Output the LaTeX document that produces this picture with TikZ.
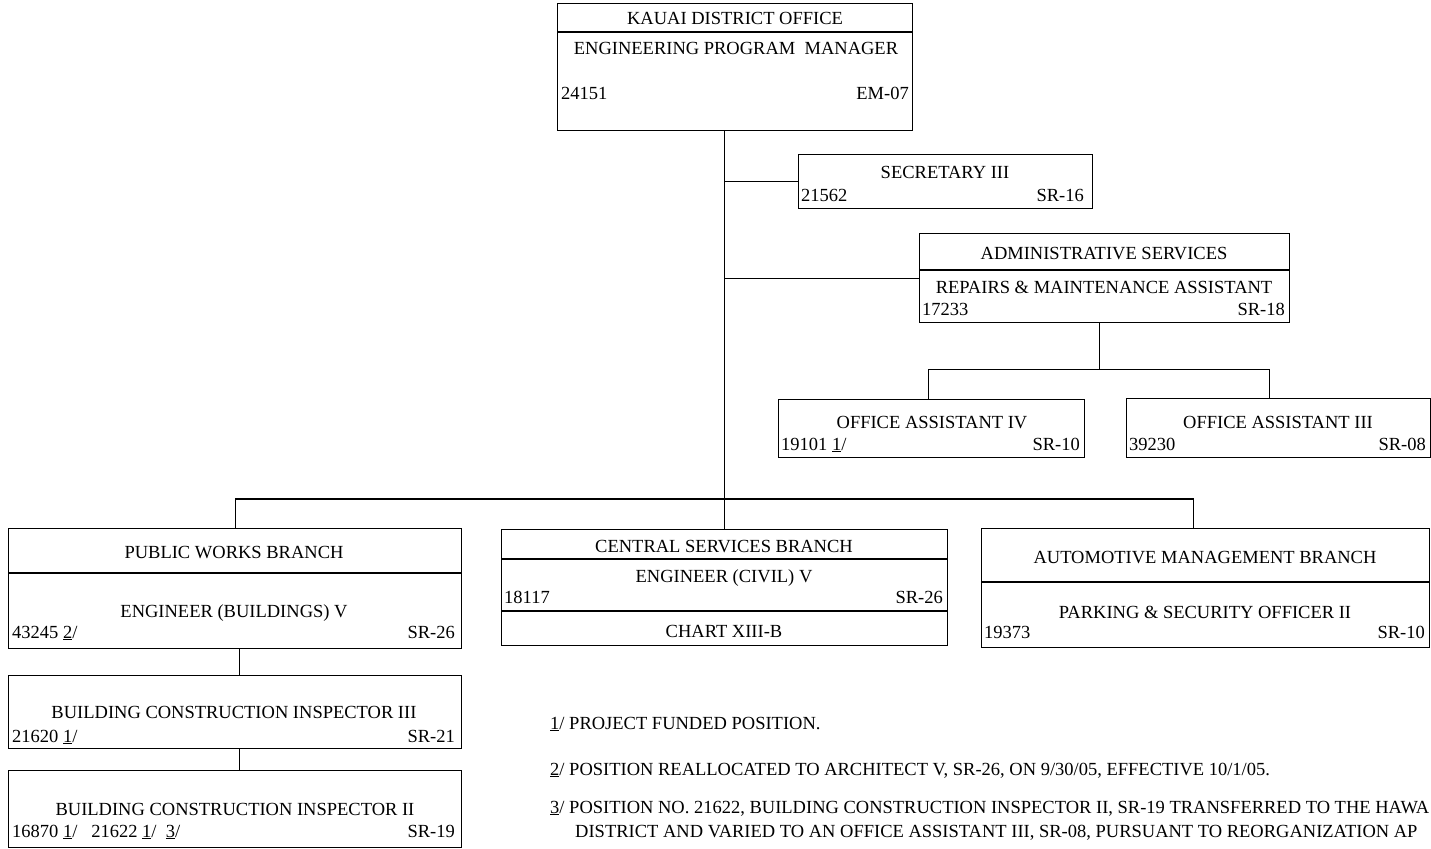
\documentclass[tikz,border=0pt]{standalone}
\usepackage{fontspec}
\setmainfont{Liberation Serif}
\usetikzlibrary{positioning}
\newcommand{\fnm}[1]{\underline{#1}/}
\tikzset{
  orgbox/.style={draw, line width=1.3pt, inner sep=0pt, anchor=north west},
  link/.style={line width=1.3pt},
  ttl/.style={font=\fontsize{18.5}{22}\selectfont, inner sep=0pt, anchor=base},
  posno/.style={ttl, anchor=base west},
  grade/.style={ttl, anchor=base east},
  fnote/.style={ttl, anchor=base west}
}

\begin{document}
\begin{tikzpicture}[x=1pt, y=-1pt]
    \useasboundingbox[fill=white] (0,0) rectangle (1431,848);

    % boxes
    \node[orgbox, minimum width=355pt, minimum height=127pt] (kdo) at (557,3) {};
    \node[orgbox, minimum width=294pt, minimum height=54pt] (sec) at (798,154) {};
    \node[orgbox, minimum width=370pt, minimum height=89pt] (adm) at (919,233) {};
    \node[orgbox, minimum width=306pt, minimum height=58pt] (oa4) at (778,399) {};
    \node[orgbox, minimum width=304pt, minimum height=59pt] (oa3) at (1126,398) {};
    \node[orgbox, minimum width=453pt, minimum height=120pt] (pw) at (8,528) {};
    \node[orgbox, minimum width=453pt, minimum height=73pt] (bci3) at (8,675) {};
    \node[orgbox, minimum width=453pt, minimum height=77pt] (bci2) at (8,770) {};
    \node[orgbox, minimum width=446pt, minimum height=116pt] (cs) at (501,529) {};
    \node[orgbox, minimum width=448pt, minimum height=119pt] (am) at (981,528) {};

    % dividers
    \draw[link] ([yshift=-29pt]kdo.north west) -- ([yshift=-29pt]kdo.north east);
    \draw[link] ([yshift=-37pt]adm.north west) -- ([yshift=-37pt]adm.north east);
    \draw[link] ([yshift=-45pt]pw.north west) -- ([yshift=-45pt]pw.north east);
    \draw[link] ([yshift=-30pt]cs.north west) -- ([yshift=-30pt]cs.north east);
    \draw[link] ([yshift=-82pt]cs.north west) -- ([yshift=-82pt]cs.north east);
    \draw[link] ([yshift=-54pt]am.north west) -- ([yshift=-54pt]am.north east);

    % connectors
    \coordinate (bus) at (724,499);
    \draw[link] (kdo.south -| cs.north) -- (cs.north);
    \draw[link] (sec.west) -- (sec.west -| cs.north);
    \draw[link] (adm.west) -- (adm.west -| cs.north);
    \draw[link] ([xshift=-5pt]adm.south) -- ++(0,46) coordinate (oajoin);
    \draw[link] ([xshift=-3pt]oa4.north) |- (oajoin) -| ([xshift=-9pt]oa3.north);
    \draw[link] (pw.north) |- (bus) -| ([xshift=-12pt]am.north);
    \draw[link] ([xshift=4pt]pw.south) -- ([xshift=4pt]bci3.north);
    \draw[link] ([xshift=4pt]bci3.south) -- ([xshift=4pt]bci2.north);

    % texts
    \node[ttl] (kdoT) at (735,25) {KAUAI DISTRICT OFFICE};
    \node[ttl] (kdoP) at (736,55) {ENGINEERING PROGRAM\ \ MANAGER};
    \node[posno] (kdoN) at (561,100) {24151};
    \node[grade] (kdoG) at (909,100) {EM-07};

    \node[ttl] (secP) at (945,178) {SECRETARY III};
    \node[posno] (secN) at (801,201) {21562};
    \node[grade] (secG) at (1084,201) {SR-16};

    \node[ttl] (admT) at (1104,259) {ADMINISTRATIVE SERVICES};
    \node[ttl] (admP) at (1104,293) {REPAIRS \& MAINTENANCE ASSISTANT};
    \node[posno] (admN) at (922,315) {17233};
    \node[grade] (admG) at (1285,315) {SR-18};

    \node[ttl] (oa4P) at (932,428) {OFFICE ASSISTANT IV};
    \node[posno] (oa4N) at (781,450) {19101 \fnm{1}};
    \node[grade] (oa4G) at (1080,450) {SR-10};

    \node[ttl] (oa3P) at (1278,428) {OFFICE ASSISTANT III};
    \node[posno] (oa3N) at (1129,450) {39230};
    \node[grade] (oa3G) at (1426,450) {SR-08};

    \node[ttl] (pwT) at (234,558) {PUBLIC WORKS BRANCH};
    \node[ttl] (pwP) at (234,617) {ENGINEER (BUILDINGS) V};
    \node[posno] (pwN) at (12,638) {43245 \fnm{2}};
    \node[grade] (pwG) at (455,638) {SR-26};

    \node[ttl] (bci3P) at (234,718) {BUILDING CONSTRUCTION INSPECTOR III};
    \node[posno] (bci3N) at (12,742) {21620 \fnm{1}};
    \node[grade] (bci3G) at (455,742) {SR-21};

    \node[ttl] (bci2P) at (235,815) {BUILDING CONSTRUCTION INSPECTOR II};
    \node[posno] (bci2N) at (12,837) {16870 \fnm{1}\ \ \ 21622 \fnm{1}\ \ \fnm{3}};
    \node[grade] (bci2G) at (455,837) {SR-19};

    \node[ttl] (csT) at (724,552) {CENTRAL SERVICES BRANCH};
    \node[ttl] (csP) at (724,582) {ENGINEER (CIVIL) V};
    \node[posno] (csN) at (504,603) {18117};
    \node[grade] (csG) at (943,603) {SR-26};
    \node[ttl] (csC) at (724,637) {CHART XIII-B};

    \node[ttl] (amT) at (1205,563) {AUTOMOTIVE MANAGEMENT BRANCH};
    \node[ttl] (amP) at (1205,618) {PARKING \& SECURITY OFFICER II};
    \node[posno] (amN) at (984,638) {19373};
    \node[grade] (amG) at (1425,638) {SR-10};

    % footnotes
    \node[fnote] (fn1) at (550,729) {\fnm{1} PROJECT FUNDED POSITION.};
    \node[fnote] (fn2) at (550,775) {\fnm{2} POSITION REALLOCATED TO ARCHITECT V, SR-26, ON 9/30/05, EFFECTIVE 10/1/05.};
    \node[fnote] (fn3) at (550,813) {\fnm{3} POSITION NO. 21622, BUILDING CONSTRUCTION INSPECTOR II, SR-19 TRANSFERRED TO THE HAWA};
    \node[fnote] (fn3b) at (575,837) {DISTRICT AND VARIED TO AN OFFICE ASSISTANT III, SR-08, PURSUANT TO REORGANIZATION AP};
\end{tikzpicture}
\end{document}
